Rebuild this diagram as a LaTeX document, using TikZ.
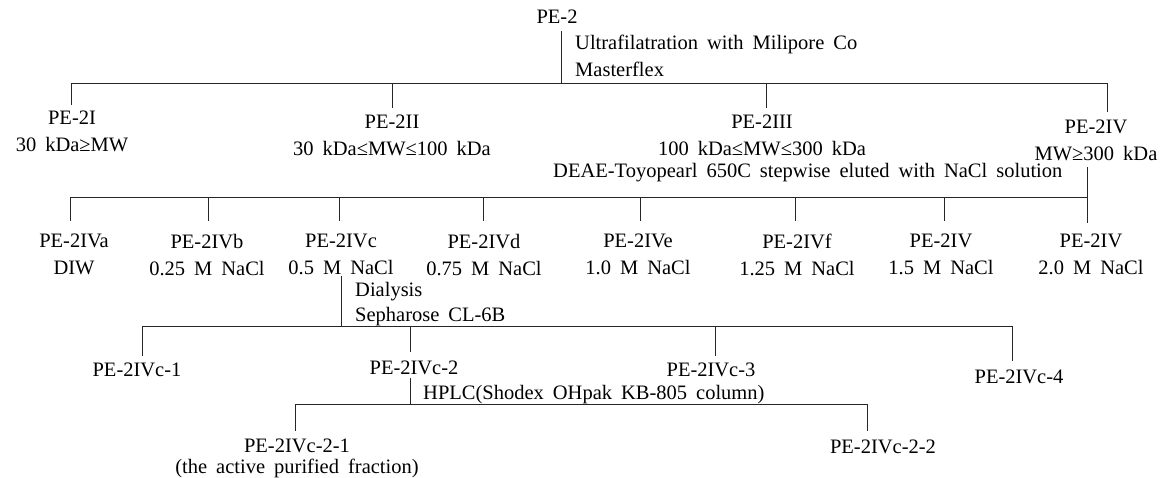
\documentclass[tikz,border=0pt]{standalone}
\usepackage{fontspec}
\setmainfont{Liberation Serif}
\newcommand\lblfont{\fontsize{20.5}{27}\selectfont\spaceskip 9pt\relax}
\newcommand\lblfontb{\fontsize{20.5}{21}\selectfont\spaceskip 9pt\relax}
\begin{document}
\begin{tikzpicture}[x=1pt,y=-1pt,
  lbl/.style={inner sep=0pt, align=center, font={\lblfont}},
  lblb/.style={inner sep=0pt, align=center, font={\lblfontb}},
  note/.style={inner sep=0pt, anchor=base west, font={\lblfont}},
  link/.style={line width=0.9pt, draw=black!85},
]
\useasboundingbox (0,0) rectangle (1164,478);

% ---- level 0
\node[lbl, anchor=base] (pe2) at (557,24) {PE-2};
\node[note] (uf) at (575,50) {Ultrafilatration with Milipore Co};
\node[note] (mf) at (575,77) {Masterflex};
\coordinate (j0) at (561,83);
\coordinate (b1a) at (71,83);
\coordinate (b1b) at (392,83);
\coordinate (b1c) at (766,83);
\coordinate (b1d) at (1107,83);

% ---- level 1
\node[lbl, anchor=north] (p1) at (72,111) {PE-2I\\30 kDa≥MW};
\node[lbl, anchor=north] (p2) at (392,115) {PE-2II\\30 kDa≤MW≤100 kDa};
\node[lbl, anchor=north] (p3) at (762,115) {PE-2III\\100 kDa≤MW≤300 kDa};
\node[lbl, anchor=north] (p4) at (1096,120) {PE-2IV\\MW≥300 kDa};

\draw[link, shorten <=7pt] (j0 |- pe2.south) -- (j0);
\draw[link] (b1a) -- (b1d);
\draw[link, shorten >=6pt] (b1a) -- (b1a |- p1.north);
\draw[link, shorten >=7pt] (b1b) -- (b1b |- p2.north);
\draw[link, shorten >=7pt] (b1c) -- (b1c |- p3.north);
\draw[link, shorten >=8pt] (b1d) -- (b1d |- p4.north);

% ---- level 2
\node[note] (deae) at (553,178) {DEAE-Toyopearl 650C stepwise eluted with NaCl solution};
\coordinate (b2a) at (70,197);
\coordinate (b2b) at (208,197);
\coordinate (b2c) at (339,197);
\coordinate (b2d) at (483,197);
\coordinate (b2e) at (640,197);
\coordinate (b2f) at (795,197);
\coordinate (b2g) at (944,197);
\coordinate (b2h) at (1087,197);

\node[lbl, anchor=north] (q1) at (74,234) {PE-2IVa\\DIW};
\node[lbl, anchor=north] (q2) at (207,234) {PE-2IVb\\0.25 M NaCl};
\node[lbl, anchor=north] (q3) at (341,234) {PE-2IVc\\0.5 M NaCl};
\node[lbl, anchor=north] (q4) at (484,234) {PE-2IVd\\0.75 M NaCl};
\node[lbl, anchor=north] (q5) at (638,234) {PE-2IVe\\1.0 M NaCl};
\node[lbl, anchor=north] (q6) at (797,234) {PE-2IVf\\1.25 M NaCl};
\node[lbl, anchor=north] (q7) at (941,234) {PE-2IV\\1.5 M NaCl};
\node[lbl, anchor=north] (q8) at (1091,234) {PE-2IV\\2.0 M NaCl};

\draw[link, shorten <=6pt, shorten >=11pt] (b2h |- p4.south) -- (b2h |- q8.north);
\draw[link] (b2a) -- (b2h);
\draw[link, shorten >=13pt] (b2a) -- (b2a |- q1.north);
\draw[link, shorten >=13pt] (b2b) -- (b2b |- q2.north);
\draw[link, shorten >=13pt] (b2c) -- (b2c |- q3.north);
\draw[link, shorten >=13pt] (b2d) -- (b2d |- q4.north);
\draw[link, shorten >=13pt] (b2e) -- (b2e |- q5.north);
\draw[link, shorten >=13pt] (b2f) -- (b2f |- q6.north);
\draw[link, shorten >=13pt] (b2g) -- (b2g |- q7.north);

% ---- level 3
\node[note] (dia) at (355,296) {Dialysis};
\node[note] (sep) at (355,321) {Sepharose CL-6B};
\coordinate (b3j) at (341,326);
\coordinate (b3a) at (142,326);
\coordinate (b3b) at (410,326);
\coordinate (b3c) at (715,326);
\coordinate (b3d) at (1012,326);

\node[lbl, anchor=base] (c1) at (137,376) {PE-2IVc-1};
\node[lbl, anchor=base] (c2) at (414,374) {PE-2IVc-2};
\node[lbl, anchor=base] (c3) at (711,376) {PE-2IVc-3};
\node[lbl, anchor=base] (c4) at (1019,383) {PE-2IVc-4};

\draw[link, shorten <=1pt] (b3j |- q3.south) -- (b3j);
\draw[link] (b3a) -- (b3d);
\draw[link, shorten >=6pt] (b3a) -- (b3a |- c1.north);
\draw[link, shorten >=8pt] (b3b) -- (b3b |- c2.north);
\draw[link, shorten >=6pt] (b3c) -- (b3c |- c3.north);
\draw[link, shorten >=8pt] (b3d) -- (b3d |- c4.north);

% ---- level 4
\node[note] (hplc) at (423,399) {HPLC(Shodex OHpak KB-805 column)};
\coordinate (b4j) at (410,404);
\coordinate (b4a) at (295,404);
\coordinate (b4b) at (867,404);

\node[lblb, anchor=north] (d1) at (297,439) {PE-2IVc-2-1\\(the active purified fraction)};
\node[lbl, anchor=base] (d2) at (883,453) {PE-2IVc-2-2};

\draw[link, shorten <=3pt] (b4j |- c2.south) -- (b4j);
\draw[link] (b4a) -- (b4b);
\draw[link, shorten >=8pt] (b4a) -- (b4a |- d1.north);
\draw[link, shorten >=8pt] (b4b) -- (b4b |- d2.north);
\end{tikzpicture}
\end{document}
